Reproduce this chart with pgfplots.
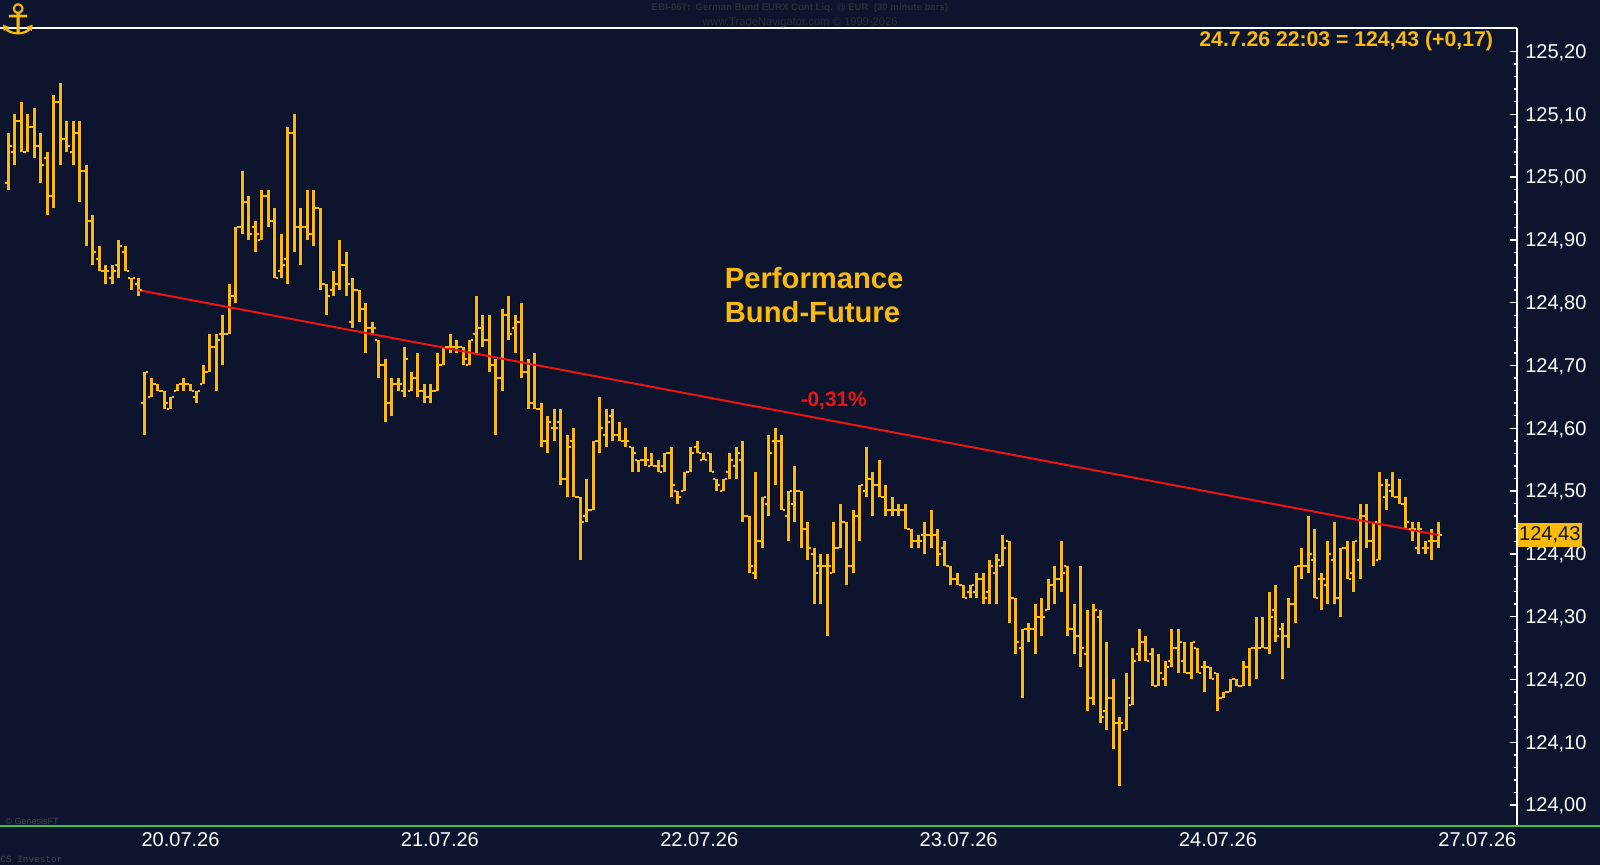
\documentclass[border=0pt]{standalone}
\usepackage{pgfplots}
\pgfplotsset{compat=1.18}
\usepackage{pgfplotstable}
\usepackage{fontspec}
\setmainfont{Liberation Sans}
\newfontfamily\monofont{Liberation Mono}
\newfontfamily\symfont{DejaVu Sans}
\definecolor{navy}{RGB}{13,21,46}
\definecolor{gold}{RGB}{250,186,10}
\definecolor{tred}{RGB}{235,20,20}
\definecolor{tgreen}{RGB}{70,190,60}
\definecolor{dimtxt}{RGB}{40,45,60}
\definecolor{outl}{RGB}{5,8,18}

\pgfplotstableread{
i o h l c
1 124.99 125.07 124.98 125.05
2 125.04 125.10 125.02 125.09
3 125.09 125.12 125.04 125.04
4 125.04 125.10 125.04 125.08
5 125.08 125.11 125.03 125.05
6 125.05 125.07 124.99 125.02
7 125.03 125.04 124.94 124.97
8 124.97 125.13 124.95 125.12
9 125.12 125.15 125.02 125.06
10 125.06 125.09 125.04 125.05
11 125.04 125.09 125.02 125.07
12 125.07 125.09 124.96 125.01
13 125.01 125.02 124.89 124.93
14 124.93 124.94 124.86 124.88
15 124.87 124.89 124.85 124.85
16 124.85 124.86 124.83 124.85
17 124.84 124.86 124.83 124.85
18 124.86 124.90 124.84 124.89
19 124.88 124.89 124.85 124.85
20 124.84 124.84 124.82 124.84
21 124.83 124.84 124.81 124.82
22 124.64 124.69 124.59 124.69
23 124.65 124.68 124.65 124.67
24 124.67 124.67 124.66 124.66
25 124.66 124.66 124.63 124.64
26 124.63 124.65 124.63 124.65
27 124.66 124.67 124.66 124.67
28 124.67 124.68 124.66 124.67
29 124.67 124.67 124.66 124.66
30 124.65 124.66 124.64 124.66
31 124.67 124.70 124.67 124.69
32 124.69 124.75 124.69 124.73
33 124.73 124.75 124.66 124.74
34 124.75 124.78 124.70 124.75
35 124.75 124.83 124.75 124.81
36 124.81 124.92 124.80 124.92
37 124.92 125.01 124.91 124.96
38 124.96 124.97 124.90 124.91
39 124.92 124.93 124.88 124.91
40 124.90 124.98 124.90 124.97
41 124.97 124.98 124.92 124.93
42 124.93 124.95 124.84 124.84
43 124.85 124.91 124.84 124.86
44 124.87 125.08 124.83 125.07
45 125.07 125.10 124.88 124.92
46 124.92 124.95 124.86 124.92
47 124.92 124.98 124.90 124.91
48 124.91 124.98 124.89 124.95
49 124.95 124.95 124.82 124.83
50 124.83 124.83 124.78 124.81
51 124.82 124.85 124.81 124.83
52 124.83 124.90 124.82 124.86
53 124.86 124.88 124.81 124.83
54 124.77 124.84 124.76 124.82
55 124.82 124.82 124.77 124.79
56 124.79 124.80 124.72 124.76
57 124.76 124.77 124.75 124.76
58 124.74 124.74 124.68 124.70
59 124.70 124.71 124.61 124.64
60 124.64 124.68 124.62 124.67
61 124.67 124.68 124.66 124.67
62 124.66 124.73 124.65 124.71
63 124.66 124.69 124.66 124.68
64 124.68 124.72 124.65 124.66
65 124.66 124.67 124.64 124.65
66 124.65 124.67 124.64 124.66
67 124.66 124.72 124.66 124.70
68 124.70 124.73 124.70 124.73
69 124.73 124.75 124.72 124.73
70 124.73 124.74 124.72 124.73
71 124.73 124.73 124.70 124.71
72 124.70 124.74 124.70 124.74
73 124.75 124.81 124.72 124.76
74 124.76 124.78 124.73 124.74
75 124.74 124.78 124.69 124.70
76 124.70 124.71 124.59 124.68
77 124.68 124.79 124.66 124.78
78 124.78 124.81 124.74 124.75
79 124.76 124.78 124.72 124.77
80 124.77 124.80 124.68 124.69
81 124.69 124.71 124.63 124.64
82 124.64 124.72 124.63 124.63
83 124.63 124.64 124.57 124.58
84 124.58 124.62 124.56 124.61
85 124.60 124.63 124.58 124.60
86 124.61 124.63 124.51 124.52
87 124.52 124.59 124.49 124.57
88 124.58 124.60 124.49 124.49
89 124.49 124.49 124.39 124.45
90 124.46 124.52 124.45 124.47
91 124.47 124.58 124.47 124.58
92 124.58 124.65 124.56 124.60
93 124.59 124.63 124.57 124.61
94 124.62 124.63 124.58 124.59
95 124.59 124.61 124.58 124.58
96 124.58 124.60 124.57 124.58
97 124.57 124.57 124.53 124.56
98 124.55 124.55 124.53 124.55
99 124.55 124.57 124.54 124.55
100 124.54 124.56 124.54 124.54
101 124.54 124.55 124.53 124.53
102 124.54 124.56 124.53 124.56
103 124.56 124.57 124.49 124.51
104 124.50 124.50 124.48 124.49
105 124.50 124.53 124.50 124.53
106 124.53 124.57 124.53 124.56
107 124.57 124.58 124.56 124.56
108 124.55 124.56 124.55 124.55
109 124.56 124.56 124.53 124.53
110 124.52 124.52 124.50 124.51
111 124.50 124.52 124.50 124.52
112 124.53 124.56 124.52 124.55
113 124.54 124.57 124.52 124.56
114 124.55 124.58 124.45 124.46
115 124.46 124.46 124.37 124.38
116 124.37 124.53 124.36 124.42
117 124.42 124.49 124.41 124.49
118 124.48 124.59 124.46 124.56
119 124.58 124.60 124.51 124.58
120 124.58 124.59 124.47 124.47
121 124.46 124.50 124.42 124.50
122 124.48 124.54 124.45 124.50
123 124.50 124.50 124.41 124.44
124 124.44 124.45 124.39 124.41
125 124.40 124.41 124.32 124.37
126 124.38 124.40 124.32 124.38
127 124.38 124.40 124.27 124.38
128 124.37 124.45 124.37 124.41
129 124.41 124.48 124.41 124.45
130 124.45 124.45 124.35 124.38
131 124.38 124.47 124.37 124.46
132 124.46 124.51 124.42 124.51
133 124.50 124.57 124.49 124.52
134 124.52 124.53 124.46 124.51
135 124.51 124.55 124.49 124.49
136 124.49 124.51 124.46 124.47
137 124.47 124.49 124.46 124.47
138 124.47 124.48 124.46 124.47
139 124.47 124.48 124.44 124.44
140 124.44 124.44 124.41 124.42
141 124.42 124.43 124.41 124.42
142 124.43 124.45 124.40 124.43
143 124.43 124.47 124.41 124.43
144 124.43 124.44 124.38 124.40
145 124.41 124.42 124.38 124.38
146 124.38 124.38 124.35 124.36
147 124.36 124.37 124.35 124.35
148 124.35 124.35 124.33 124.33
149 124.34 124.35 124.33 124.35
150 124.34 124.37 124.33 124.36
151 124.36 124.37 124.32 124.33
152 124.34 124.39 124.32 124.38
153 124.37 124.40 124.32 124.39
154 124.38 124.43 124.38 124.41
155 124.42 124.42 124.29 124.33
156 124.33 124.33 124.24 124.26
157 124.25 124.28 124.17 124.28
158 124.28 124.29 124.26 124.28
159 124.28 124.32 124.24 124.30
160 124.30 124.33 124.27 124.30
161 124.31 124.36 124.31 124.35
162 124.35 124.38 124.32 124.36
163 124.36 124.42 124.34 124.37
164 124.38 124.38 124.27 124.28
165 124.28 124.32 124.24 124.27
166 124.27 124.38 124.22 124.25
167 124.24 124.31 124.15 124.17
168 124.17 124.32 124.16 124.31
169 124.30 124.31 124.13 124.14
170 124.15 124.26 124.12 124.17
171 124.17 124.20 124.09 124.13
172 124.13 124.14 124.03 124.13
173 124.12 124.21 124.12 124.17
174 124.16 124.25 124.16 124.23
175 124.24 124.28 124.23 124.26
176 124.26 124.27 124.23 124.23
177 124.24 124.25 124.19 124.19
178 124.19 124.24 124.19 124.21
179 124.20 124.23 124.19 124.22
180 124.23 124.28 124.22 124.25
181 124.25 124.28 124.21 124.26
182 124.23 124.26 124.21 124.21
183 124.21 124.26 124.20 124.26
184 124.25 124.25 124.21 124.21
185 124.22 124.23 124.18 124.22
186 124.22 124.22 124.20 124.20
187 124.21 124.21 124.15 124.17
188 124.17 124.18 124.17 124.18
189 124.18 124.20 124.18 124.20
190 124.20 124.20 124.19 124.19
191 124.19 124.23 124.19 124.22
192 124.22 124.25 124.19 124.25
193 124.25 124.30 124.20 124.25
194 124.25 124.30 124.25 124.25
195 124.25 124.34 124.24 124.30
196 124.31 124.35 124.26 124.27
197 124.28 124.29 124.20 124.27
198 124.27 124.33 124.25 124.32
199 124.32 124.38 124.29 124.38
200 124.38 124.41 124.36 124.38
201 124.38 124.46 124.37 124.40
202 124.39 124.44 124.33 124.33
203 124.36 124.37 124.31 124.36
204 124.35 124.42 124.32 124.40
205 124.39 124.45 124.32 124.33
206 124.33 124.41 124.30 124.41
207 124.41 124.42 124.36 124.36
208 124.37 124.42 124.34 124.42
209 124.39 124.48 124.36 124.46
210 124.46 124.48 124.41 124.42
211 124.42 124.45 124.38 124.45
212 124.39 124.53 124.39 124.51
213 124.49 124.52 124.47 124.51
214 124.50 124.53 124.49 124.49
215 124.49 124.52 124.48 124.48
216 124.48 124.49 124.44 124.45
217 124.44 124.45 124.42 124.44
218 124.41 124.45 124.40 124.44
219 124.41 124.42 124.40 124.41
220 124.42 124.44 124.39 124.42
221 124.42 124.45 124.41 124.43
}\bund

\begin{document}
\begin{tikzpicture}
\path[use as bounding box, fill=navy] (0,0) rectangle (800pt,432.5pt);
\begin{axis}[
  at={(0.5pt,19.5pt)}, anchor=south west,
  width=758pt, height=399pt, scale only axis,
  xmin=-0.12, xmax=233.1, ymin=123.9667, ymax=125.2374,
  axis line style={draw=none},
  scaled y ticks=false,
  ytick={124.0,124.1,124.2,124.3,124.4,124.5,124.6,124.7,124.8,124.9,125.0,125.1,125.2},
  minor y tick num=4,
  ytick pos=right, yticklabel pos=right,
  tick align=inside,
  major tick length=3.5pt, minor tick length=1.5pt,
  tick style={white, line width=0.7pt},
  yticklabel style={text=white, font=\fontsize{10}{12}\selectfont, anchor=west, xshift=0.6pt, yshift=-0.6pt,
    /pgf/number format/.cd, fixed, fixed zerofill, precision=2, use comma, assume math mode=true},
  xtick={27.5,67.4,107.3,147.2,187.1,227.0},
  xticklabels={20.07.26,21.07.26,22.07.26,23.07.26,24.07.26,27.07.26},
  xtick style={draw=none},
  xticklabel style={text=white, font=\fontsize{10}{12}\selectfont, anchor=center, yshift=-7pt},
]
\addplot[forget plot, mark=none, outl, line width=2.4pt,
  quiver={u=0, v=\thisrow{h}-\thisrow{l}}]
  table[x=i, y=l] {\bund};
\addplot[forget plot, mark=none, gold, line width=1.5pt,
  quiver={u=0, v=\thisrow{h}-\thisrow{l}}]
  table[x=i, y=l] {\bund};
\addplot[only marks, mark=-, mark size=0.5pt, forget plot,
  mark options={xshift=-1.25pt, draw=gold, line width=1pt}]
  table[x=i, y=o] {\bund};
\addplot[only marks, mark=-, mark size=0.5pt, forget plot,
  mark options={xshift=1.25pt, draw=gold, line width=1pt}]
  table[x=i, y=c] {\bund};
\addplot[tred, line width=1pt, mark=none, forget plot] coordinates {(21,124.82) (221,124.43)};
\end{axis}
% frame lines
\draw[white, line width=1.2pt] (0,418.5pt) -- (758.5pt,418.5pt);
\draw[white, line width=1pt] (758.5pt,418.5pt) -- (758.5pt,19.5pt);
\draw[tgreen, line width=1pt] (0,19.5pt) -- (800pt,19.5pt);
% price box
\node[anchor=west, fill=gold, text=navy, inner xsep=0.6pt, inner ysep=0pt, minimum height=12pt,
  font=\fontsize{10}{12}\selectfont] at (758.8pt,164.95pt) {124,43};
% texts
\node[anchor=base east, text=gold, font=\bfseries\fontsize{10.6}{12}\selectfont] at (750pt,409pt) {24.7.26 22:03 = 124,43 (+0,17)};
\node[anchor=base west, inner sep=0pt, text=gold, font=\bfseries\fontsize{14.6}{17}\selectfont] at (362.25pt,288.1pt) {Performance};
\node[anchor=base west, inner sep=0pt, text=gold, font=\bfseries\fontsize{14.6}{17}\selectfont] at (362.25pt,271.3pt) {Bund-Future};
\node[anchor=base, inner sep=0pt, text=tred, font=\bfseries\fontsize{10.4}{12}\selectfont] at (416.85pt,229pt) {-0,31\%};
\node[text=dimtxt, inner sep=0pt, font=\bfseries\fontsize{4.8}{6}\selectfont] at (400pt,428.35pt) {EBI-067:\ \ German Bund EURX Cont Liq. @ EUR\ \ (30 minute bars)};
\node[text=dimtxt, inner sep=0pt, font=\fontsize{5.6}{7}\selectfont] at (400pt,421.15pt) {www.TradeNavigator.com © 1999-2026};
\node[text=gold, inner sep=0pt, font=\symfont\fontsize{21}{21}\selectfont] at (9pt,423pt) {⚓};
\node[anchor=west, inner sep=0pt, text=dimtxt!70!gray, font=\fontsize{4.5}{5}\selectfont] at (2.5pt,22pt) {© GenesisFT};
\node[anchor=west, inner sep=0pt, text=dimtxt!70!gray, font=\monofont\fontsize{4.7}{5}\selectfont] at (0pt,3pt) {CS Investor};
\end{tikzpicture}
\end{document}
